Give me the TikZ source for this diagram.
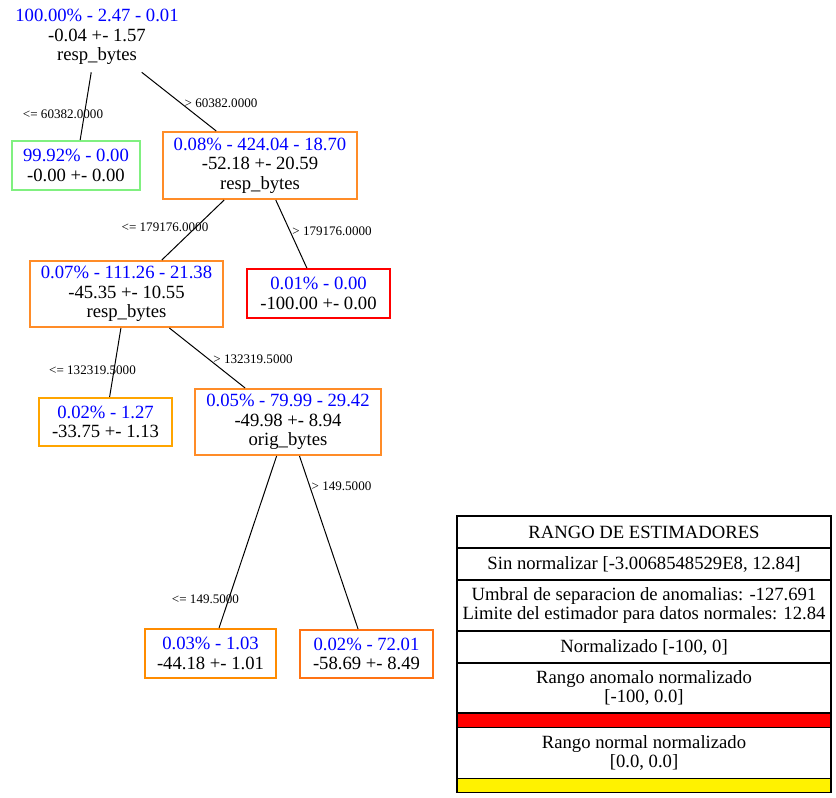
\documentclass[tikz,border=0pt]{standalone}
\usepackage{fontspec}
\setmainfont{Liberation Serif}
\usepackage{xcolor}
\usetikzlibrary{positioning}
\definecolor{leafgreen}{RGB}{128,240,128}
\definecolor{splitorange}{RGB}{255,140,40}
\definecolor{leaforange}{RGB}{255,165,0}
\definecolor{midorange}{RGB}{255,140,0}
\definecolor{deeporange}{RGB}{255,115,20}
\newcommand{\pxu}{0.75pt}

\begin{document}
\begin{tikzpicture}[
  x=\pxu, y=-\pxu,
  font=\fontsize{14}{14.6}\selectfont,
  tree/.style={draw, line width=1.5pt, align=center, inner sep=0pt},
  cond/.style={font=\fontsize{9.8}{10.5}\selectfont, inner sep=0pt},
  link/.style={line width=0.75pt},
  row/.style={draw, line width=1pt, align=center, inner sep=0pt, minimum width=374*\pxu}
]
\useasboundingbox (0,0) rectangle (836,797);

% tree
\node[align=center, inner sep=0pt, minimum height=70*\pxu] (root) at (97,37)
  {\textcolor{blue}{100.00\% - 2.47 - 0.01}\\-0.04 +- 1.57\\resp\_bytes};
\node[tree, draw=leafgreen, minimum width=128*\pxu, minimum height=49*\pxu] (leafa) at (76,165.5)
  {\textcolor{blue}{99.92\% - 0.00}\\-0.00 +- 0.00};
\node[tree, draw=splitorange, minimum width=194*\pxu, minimum height=67*\pxu] (splitb) at (260,165.5)
  {\textcolor{blue}{0.08\% - 424.04 - 18.70}\\-52.18 +- 20.59\\resp\_bytes};
\node[tree, draw=splitorange, minimum width=193*\pxu, minimum height=66*\pxu] (splitc) at (126.5,294)
  {\textcolor{blue}{0.07\% - 111.26 - 21.38}\\-45.35 +- 10.55\\resp\_bytes};
\node[tree, draw=red, minimum width=143*\pxu, minimum height=49*\pxu] (leafd) at (318.5,293.5)
  {\textcolor{blue}{0.01\% - 0.00}\\-100.00 +- 0.00};
\node[tree, draw=leaforange, minimum width=133*\pxu, minimum height=48*\pxu] (leafe) at (105.5,422)
  {\textcolor{blue}{0.02\% - 1.27}\\-33.75 +- 1.13};
\node[tree, draw=splitorange, minimum width=186*\pxu, minimum height=66*\pxu] (splitf) at (288,422)
  {\textcolor{blue}{0.05\% - 79.99 - 29.42}\\-49.98 +- 8.94\\orig\_bytes};
\node[tree, draw=midorange, minimum width=131*\pxu, minimum height=49*\pxu] (leafg) at (210.5,653.5)
  {\textcolor{blue}{0.03\% - 1.03}\\-44.18 +- 1.01};
\node[tree, draw=deeporange, minimum width=133*\pxu, minimum height=48*\pxu] (leafh) at (366.5,654)
  {\textcolor{blue}{0.02\% - 72.01}\\-58.69 +- 8.49};

\draw[link] (root) -- (leafa);
\draw[link] (root) -- (splitb);
\draw[link] (splitb) -- (splitc);
\draw[link] (splitb) -- (leafd);
\draw[link] (splitc) -- (leafe);
\draw[link] (splitc) -- (splitf);
\draw[link] (splitf) -- (leafg);
\draw[link] (splitf) -- (leafh);

\node[cond] (conda) at (63,114) {<= 60382.0000};
\node[cond] (condb) at (221,103) {> 60382.0000};
\node[cond] (condc) at (165,227) {<= 179176.0000};
\node[cond] (condd) at (332,231) {> 179176.0000};
\node[cond] (conde) at (92.5,370) {<= 132319.5000};
\node[cond] (condf) at (253,359) {> 132319.5000};
\node[cond] (condg) at (205.5,599) {<= 149.5000};
\node[cond] (condh) at (341.5,486) {> 149.5000};

% legend
\node[row, minimum height=32*\pxu] (hdr) at (644,532) {RANGO DE ESTIMADORES};
\node[row, minimum height=32*\pxu] (raw) at (644,564) {Sin normalizar [-3.0068548529E8, 12.84]};
\node[row, minimum height=51*\pxu] (umbral) at (644,605.5)
  {Umbral de separacion de anomalias: -127.691\\Limite del estimador para datos normales: 12.84};
\node[row, minimum height=32*\pxu] (norm) at (644,647) {Normalizado [-100, 0]};
\node[row, minimum height=50*\pxu] (anom) at (644,688) {Rango anomalo normalizado\\{[}-100, 0.0{]}};
\node[row, fill=red, minimum height=14*\pxu] (redbar) at (644,720.5) {};
\node[row, minimum height=51*\pxu] (normal) at (644,753) {Rango normal normalizado\\{[}0.0, 0.0{]}};
\node[row, fill=yellow, minimum height=14*\pxu] (yellowbar) at (644,785.5) {};
\end{tikzpicture}
\end{document}
